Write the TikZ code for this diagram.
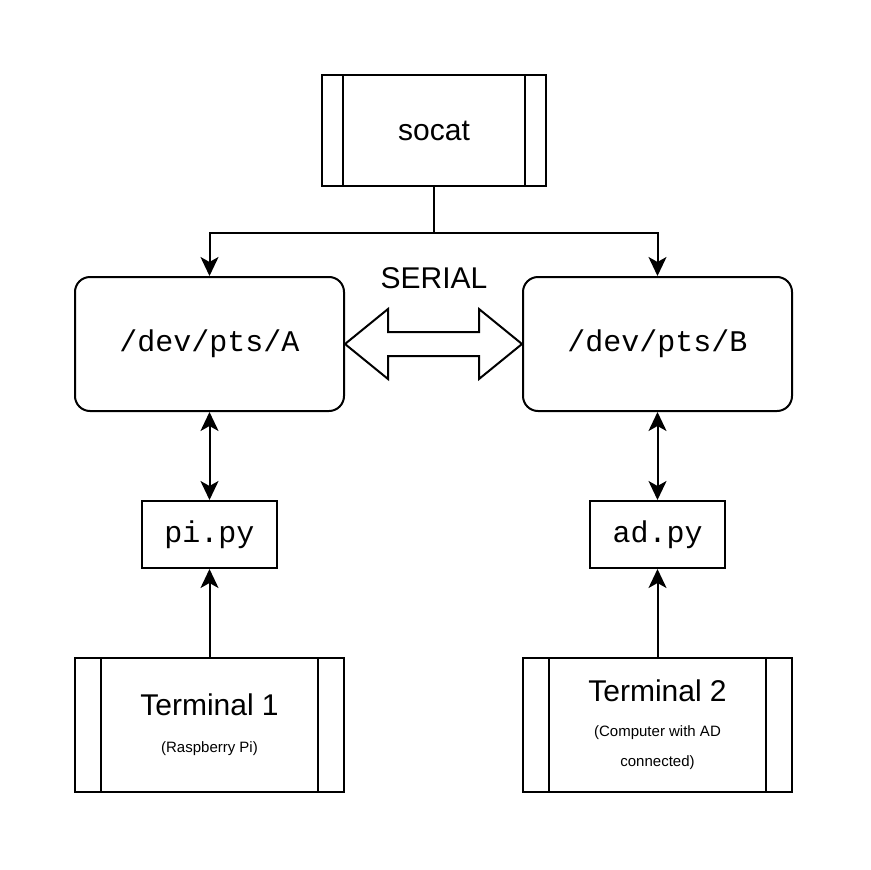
\documentclass[tikz,border=0pt]{standalone}
\usepackage{fontspec}
\setmainfont{Liberation Sans}
\setmonofont{Liberation Mono}
\usetikzlibrary{arrows.meta}
\tikzstyle{subproc} = [rectangle, draw=black, line width=2pt, minimum width=269pt, minimum height=134pt, align=center, font=\fontsize{30}{34}\selectfont]
\tikzstyle{device} = [rectangle, rounded corners=15pt, draw=black, line width=2pt, minimum width=269pt, minimum height=134pt, font=\ttfamily\fontsize{30}{34}\selectfont]
\tikzstyle{pyscript} = [rectangle, draw=black, line width=2pt, minimum width=135pt, minimum height=67pt, font=\ttfamily\fontsize{30}{34}\selectfont]
\tikzstyle{sideline} = [line width=2pt]
\tikzstyle{arrow} = [line width=2pt, -{Stealth[length=19pt, width=18pt, inset=5pt]}]
\tikzstyle{dblarrow} = [line width=2pt, {Stealth[length=19pt, width=18pt, inset=5pt]}-{Stealth[length=19pt, width=18pt, inset=5pt]}]

\begin{document}
\begin{tikzpicture}[x=1pt, y=1pt, node distance=190.5pt]
\useasboundingbox (0,0) rectangle (870,-870);

\node (socat) [subproc, minimum width=224pt, minimum height=111pt] at (434,-130.5) {socat};
\node (devA) [device, below of=socat, yshift=-23pt, xshift=-224.5pt] {/dev/pts/A};
\node (devB) [device, right of=devA, xshift=257.5pt] {/dev/pts/B};
\node (serial) [right of=devA, xshift=34pt, yshift=66pt, font=\fontsize{30}{34}\selectfont] {SERIAL};
\node (pipy) [pyscript, below of=devA] {pi.py};
\node (adpy) [pyscript, below of=devB] {ad.py};
\node (term1) [subproc, below of=pipy]
   {Terminal 1\\[3pt]{\fontsize{15}{18}\selectfont (Raspberry Pi)}};
\node (term2) [subproc, below of=adpy]
   {Terminal 2\\[1pt]{\fontsize{15}{18}\selectfont (Computer with AD}\\[-4pt]{\fontsize{15}{18}\selectfont connected)}};

% side bars of the subprocess boxes
\draw [sideline] ([xshift=22pt]socat.north west) -- ([xshift=22pt]socat.south west);
\draw [sideline] ([xshift=-22pt]socat.north east) -- ([xshift=-22pt]socat.south east);
\draw [sideline] ([xshift=27pt]term1.north west) -- ([xshift=27pt]term1.south west);
\draw [sideline] ([xshift=-27pt]term1.north east) -- ([xshift=-27pt]term1.south east);
\draw [sideline] ([xshift=27pt]term2.north west) -- ([xshift=27pt]term2.south west);
\draw [sideline] ([xshift=-27pt]term2.north east) -- ([xshift=-27pt]term2.south east);

\draw [arrow] (socat.south) -- ++(0,-46) -| (devA.north);
\draw [arrow] (socat.south) -- ++(0,-46) -| (devB.north);
\draw [line width=2pt] (devA.east) -- ++(43,35) -- ++(0,-23) -- ++(91,0) -- ++(0,23)
   -- (devB.west) -- ++(-43,-35) -- ++(0,23) -- ++(-91,0) -- ++(0,-23) -- cycle;
\draw [dblarrow] (devA.south) -- (pipy.north);
\draw [dblarrow] (devB.south) -- (adpy.north);
\draw [arrow] (term1.north) -- (pipy.south);
\draw [arrow] (term2.north) -- (adpy.south);

\end{tikzpicture}
\end{document}
